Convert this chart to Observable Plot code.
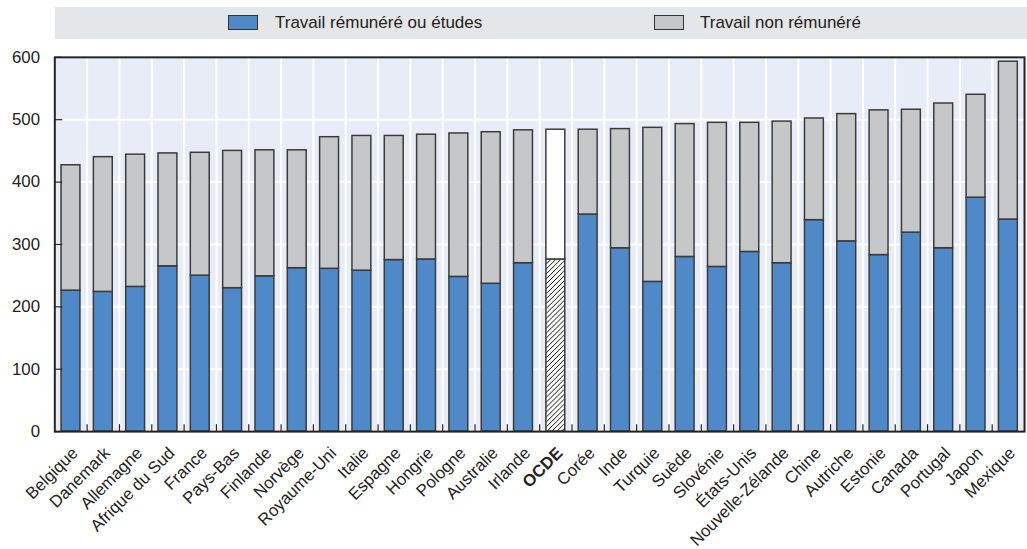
<!DOCTYPE html>
<html><head><meta charset="utf-8">
<script src="https://cdn.jsdelivr.net/npm/d3@7"></script>
<script src="https://cdn.jsdelivr.net/npm/@observablehq/plot@0.6"></script>
<style>
html,body{margin:0;padding:0;background:#fff;overflow:hidden;width:1027px;height:549px}
body{font-family:"Liberation Sans",Arial,sans-serif;color:#222}
#legend{position:relative;height:45px;width:1027px}
#legend .band{position:absolute;left:55px;top:7px;right:0;height:32px;background:#e5e6e7}
#legend .sw{position:absolute;top:15px;width:28px;height:13px;border:1.5px solid #333}
#legend .lab{position:absolute;top:12px;font-size:17px;line-height:22px;white-space:nowrap}
#chart svg{display:block;overflow:visible}
</style></head><body>
<div id="legend"></div><div id="chart"></div>
<script>
const countries = ["Belgique","Danemark","Allemagne","Afrique du Sud","France","Pays-Bas","Finlande","Norvège","Royaume-Uni","Italie","Espagne","Hongrie","Pologne","Australie","Irlande","OCDE","Corée","Inde","Turquie","Suède","Slovénie","États-Unis","Nouvelle-Zélande","Chine","Autriche","Estonie","Canada","Portugal","Japon","Mexique"];
const paid   = [226,224,232,265,250,230,249,262,261,258,275,276,248,237,270,276,348,294,240,280,264,288,270,339,305,283,319,294,375,340];
const unpaid = [201,216,212,181,197,220,202,189,211,216,199,200,230,243,213,208,136,191,247,213,231,207,227,163,204,232,197,232,165,253];
const yTicks = [0,100,200,300,400,500,600];
const seriesNames = ["Travail rémunéré ou études","Travail non rémunéré"];
const seriesColors = ["#4f89c7","#c6c7c9"];
const highlight = "OCDE";

// Legend
const legend = d3.select("#legend");
legend.append("div").attr("class","band");
const legendPos = [[228,275],[654,700]];
seriesNames.forEach((s,i)=>{
  legend.append("div").attr("class","sw").style("left",legendPos[i][0]+"px").style("background",seriesColors[i]);
  legend.append("div").attr("class","lab").style("left",legendPos[i][1]+"px").text(s);
});

const rows = countries.flatMap((c,i)=>[
  {country:c, series:seriesNames[0], value:paid[i]},
  {country:c, series:seriesNames[1], value:unpaid[i]}
]);

const W = 1040, ML = 55, MR = 3;
const step = (W - ML - MR) / countries.length;

function fillFor(d){
  if (d.country === highlight) return d.series === seriesNames[0] ? "url(#hatch)" : "white";
  return d.series === seriesNames[0] ? seriesColors[0] : seriesColors[1];
}

const defs = () => {
  const s = d3.create("svg:defs");
  const p = s.append("pattern").attr("id","hatch").attr("patternUnits","userSpaceOnUse").attr("width",5).attr("height",5);
  p.append("rect").attr("width",5).attr("height",5).attr("fill","white");
  p.append("path").attr("d","M-1,1l2,-2M0,5l5,-5M4,6l2,-2").attr("stroke","#111").attr("stroke-width",1);
  return s.node();
};

const font = '"Liberation Sans",Arial,sans-serif';

const chart = Plot.plot({
  width: W, height: 504,
  marginLeft: ML, marginRight: MR, marginTop: 12, marginBottom: 113,
  style: {fontFamily: font, fontSize: "17px", color: "#222", background: "transparent", overflow: "visible"},
  x: {type: "band", domain: countries, padding: 0, round: false, axis: null, label: null},
  y: {domain: [0, 600], axis: null, label: null},
  color: {type: "identity"},
  marks: [
    defs,
    Plot.frame({fill: "#e8ecf6"}),
    Plot.ruleY(yTicks, {stroke: "white", strokeWidth: 2}),
    Plot.ruleX(countries, {x: d => d, dx: -step/2, stroke: "white", strokeWidth: 2}),
    Plot.barY(rows, {x: "country", y: "value", z: "series", fill: fillFor, stroke: "#3a3a3a", strokeWidth: 1.5, insetLeft: 6.8, insetRight: 6.8}),
    Plot.ruleX(countries.slice(1), {x: d => d, dx: -step/2, y1: 0, y2: 0, insetTop: -7, stroke: "#222", strokeWidth: 1.2}),
    Plot.axisY(yTicks, {tickSize: 8, insetLeft: 8, tickFormat: () => "", stroke: "#222", strokeWidth: 1.2}),
    Plot.axisY(yTicks, {tickSize: 0, tickPadding: 15, fontSize: 17}),
    Plot.axisX(countries.filter(c => c !== highlight), {tickSize: 0, tickRotate: -45, tickPadding: 19, dx: 4, fontSize: 17}),
    Plot.axisX([highlight], {tickSize: 0, tickRotate: -45, tickPadding: 19, dx: 4, fontSize: 17, fontWeight: "bold"}),
    Plot.frame({stroke: "#222", strokeWidth: 2})
  ]
});
document.getElementById("chart").append(chart);
</script>
</body></html>
